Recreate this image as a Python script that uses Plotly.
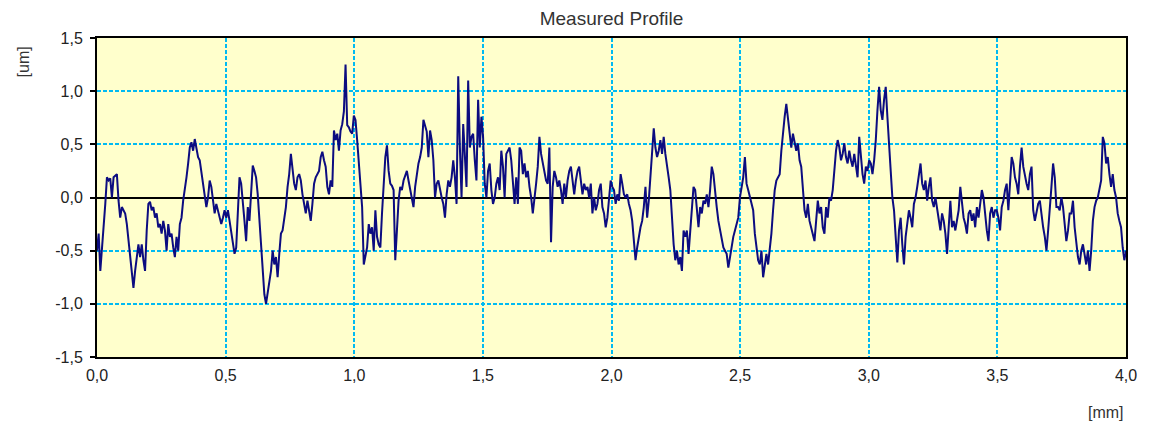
import numpy as np
import plotly.graph_objects as go

# Surface profile heights [um], sampled uniformly along the 0..4 mm trace
seg_a = [-0.50, -0.34, -0.69, -0.50, -0.28, -0.06, 0.19, 0.16, 0.18, 0.00,
         0.19, 0.21, 0.22, -0.03, -0.19, -0.09, -0.12, -0.15, -0.25, -0.41,
         -0.53, -0.66, -0.85, -0.69, -0.56, -0.44, -0.56, -0.44, -0.59, -0.69,
         -0.31, -0.06, -0.04, -0.12, -0.09, -0.19, -0.15, -0.28, -0.25, -0.34,
         -0.22, -0.31, -0.50, -0.25, -0.37, -0.34, -0.47, -0.56, -0.37, -0.50,
         -0.25, -0.19, -0.03, 0.07, 0.19, 0.32, 0.47, 0.52, 0.44, 0.55,
         0.47, 0.38, 0.35, 0.25, 0.13, 0.03, -0.09, 0.00, 0.16, 0.10,
         -0.03, -0.15, -0.06, -0.12, -0.19, -0.25, -0.19]
seg_b = [-0.12, -0.19, -0.12, -0.22, -0.31, -0.41, -0.53, -0.47, -0.19, 0.19,
         0.13, -0.09, -0.22, -0.41, -0.09, -0.22, 0.07, 0.30, 0.25, 0.19,
         0.03, -0.19, -0.44, -0.66, -0.91, -1.00, -0.88, -0.78, -0.69, -0.50,
         -0.63, -0.56, -0.75, -0.53, -0.34, -0.31, -0.19, -0.09, 0.10, 0.22,
         0.41, 0.29, 0.13, 0.07, 0.19, 0.22, 0.16, 0.03, -0.06, -0.15,
         -0.03, -0.12, -0.22, -0.06, 0.13, 0.19, 0.22, 0.25, 0.38, 0.43,
         0.35, 0.29, 0.10, 0.03, 0.16, 0.10, 0.63, 0.54, 0.60, 0.44,
         0.63, 0.69, 0.81, 1.25, 0.68, 0.66, 0.62, 0.60]
seg_c = [0.77, 0.73, 0.54, 0.35, 0.13, -0.09, -0.63, -0.56, -0.47, -0.25,
         -0.34, -0.28, -0.50, -0.12, -0.37, -0.44, -0.47, -0.15, 0.16, 0.38,
         0.49, 0.25, 0.13, 0.11, 0.07, -0.59, -0.31, -0.03, 0.10, 0.07,
         0.16, 0.21, 0.25, 0.16, 0.07, -0.01, -0.09, 0.10, 0.22, 0.32,
         0.38, 0.47, 0.73, 0.68, 0.62, 0.38, 0.63, 0.54, 0.35, 0.00,
         0.13, 0.16, 0.07, 0.00, -0.06, -0.19, 0.03, 0.16, 0.10, 0.19,
         0.35, 0.19, -0.06, 1.14, 0.47, 0.00, 0.69, 0.38, 0.10, 1.10,
         0.47, 0.57, 0.60, 0.35, 0.16, 0.92, 0.47, 0.76]
seg_d = [0.57, 0.13, 0.00, 0.25, 0.32, 0.07, -0.06, 0.00, 0.13, 0.19,
         0.07, 0.44, 0.29, 0.00, 0.41, 0.44, 0.47, 0.35, 0.13, -0.06,
         0.19, -0.06, 0.47, 0.44, 0.22, 0.32, 0.19, 0.25, 0.10, 0.00,
         -0.15, 0.03, 0.13, 0.29, 0.57, 0.41, 0.32, 0.22, 0.16, 0.13,
         0.47, -0.42, 0.10, 0.25, 0.19, 0.10, 0.16, 0.07, -0.06, 0.13,
         0.00, 0.16, 0.25, 0.29, 0.13, 0.03, 0.16, 0.25, 0.29, 0.16,
         0.03, 0.13, 0.07, 0.10, 0.00, 0.13, -0.15, 0.00, -0.12, -0.06,
         0.07, 0.13, -0.09, -0.15, -0.28, -0.19, 0.03, 0.16]
seg_e = [0.10, 0.07, -0.06, 0.03, -0.03, 0.22, 0.13, 0.03, 0.00, 0.03,
         -0.06, -0.12, -0.22, -0.41, -0.59, -0.47, -0.37, -0.28, -0.22, -0.09,
         0.10, -0.19, -0.03, 0.19, 0.44, 0.65, 0.47, 0.38, 0.44, 0.54,
         0.41, 0.57, 0.41, 0.32, 0.19, 0.07, -0.22, -0.44, -0.59, -0.50,
         -0.63, -0.56, -0.69, -0.31, -0.37, -0.31, -0.53, -0.34, -0.15, 0.10,
         0.07, -0.15, -0.28, -0.09, -0.15, -0.03, -0.06, 0.03, -0.09, 0.07,
         0.29, 0.22, 0.03, -0.09, -0.22, -0.31, -0.37, -0.47, -0.50, -0.53,
         -0.66, -0.56, -0.47, -0.37, -0.31, -0.25, -0.19, 0.00]
seg_f = [0.10, 0.19, 0.38, 0.13, 0.07, 0.00, -0.06, -0.12, -0.34, -0.47,
         -0.59, -0.63, -0.50, -0.75, -0.66, -0.53, -0.63, -0.50, -0.34, -0.12,
         0.07, 0.16, 0.19, 0.22, 0.44, 0.63, 0.76, 0.88, 0.73, 0.60,
         0.47, 0.60, 0.51, 0.44, 0.51, 0.35, 0.29, 0.07, -0.12, -0.19,
         -0.06, -0.22, -0.28, -0.34, -0.41, -0.22, -0.03, -0.15, -0.09, -0.28,
         -0.34, -0.09, -0.19, 0.00, -0.03, 0.07, 0.29, 0.44, 0.54, 0.47,
         0.35, 0.41, 0.51, 0.38, 0.32, 0.44, 0.35, 0.29, 0.41, 0.29,
         0.19, 0.57, 0.35, 0.22, 0.13, 0.29, 0.25, 0.35]
seg_g = [0.32, 0.22, 0.35, 0.54, 0.82, 1.04, 0.82, 0.73, 0.92, 1.04,
         0.76, 0.54, 0.25, 0.00, -0.12, -0.37, -0.61, -0.31, -0.19, -0.44,
         -0.63, -0.37, -0.25, -0.12, -0.19, -0.28, -0.06, 0.00, 0.10, 0.19,
         0.32, 0.13, 0.07, 0.16, -0.03, 0.10, 0.19, -0.03, -0.09, 0.00,
         -0.09, -0.19, -0.31, -0.15, -0.22, -0.34, -0.53, -0.28, -0.03, -0.28,
         -0.22, -0.31, -0.22, -0.12, 0.10, -0.06, -0.19, -0.25, -0.34, -0.15,
         -0.12, -0.22, -0.15, -0.28, -0.09, -0.19, -0.06, 0.07, 0.00, -0.19,
         -0.31, -0.41, -0.15, -0.09, -0.19]
seg_h = [-0.12, -0.12, -0.19, -0.31, -0.09, -0.03, 0.07, 0.13, -0.12, 0.13,
         0.38, 0.32, 0.19, 0.13, 0.03, 0.29, 0.47, 0.29, 0.19, 0.13,
         0.07, 0.22, 0.29, -0.12, -0.22, -0.12, -0.06, -0.03, -0.19, -0.28,
         -0.37, -0.50, -0.31, -0.06, 0.10, 0.32, 0.19, -0.09, -0.09, -0.12,
         0.00, -0.09, -0.25, -0.41, -0.31, -0.15, -0.15, -0.03, -0.28, -0.44,
         -0.56, -0.63, -0.50, -0.44, -0.56, -0.63, -0.50, -0.69, -0.50, -0.22,
         -0.09, -0.03, 0.00, 0.07, 0.16, 0.57, 0.51, 0.32, 0.38, 0.22,
         0.10, 0.22, 0.07, 0.00, -0.15, -0.22, -0.28, -0.47, -0.59, -0.50]

height_um = seg_a + seg_b + seg_c + seg_d + seg_e + seg_f + seg_g + seg_h

# Trace length and sampling positions [mm]
trace_length_mm = 4.0
position_mm = np.linspace(0.0, trace_length_mm, len(height_um))

y_ticks = [-1.5, -1.0, -0.5, 0.0, 0.5, 1.0, 1.5]
y_tick_text = ["-1,5", "-1,0", "-0,5", "0,0", "0,5", "1,0", "1,5"]
x_ticks = [0.0, 0.5, 1.0, 1.5, 2.0, 2.5, 3.0, 3.5, 4.0]
x_tick_text = ["0,0", "0,5", "1,0", "1,5", "2,0", "2,5", "3,0", "3,5", "4,0"]

FONT = "Liberation Sans, Arial, sans-serif"
GRID = "#00baf2"

fig = go.Figure()
fig.add_trace(go.Scatter(
    x=position_mm, y=height_um, mode="lines",
    line=dict(color="#0c0c80", width=2),
    hoverinfo="skip", showlegend=False,
))

fig.update_layout(
    width=1149, height=425,
    margin=dict(l=97, r=17, t=38, b=68),
    paper_bgcolor="white",
    plot_bgcolor="#ffffcc",
    font=dict(family=FONT, size=16, color="#222222"),
    title=dict(text="Measured Profile", x=0.5, xref="paper", xanchor="center",
               y=1 - 18 / 425, yref="container", yanchor="middle",
               font=dict(family=FONT, size=19, color="#333333")),
    showlegend=False,
)

fig.update_xaxes(
    range=[0, trace_length_mm], tickvals=x_ticks, ticktext=x_tick_text,
    showgrid=True, gridcolor=GRID, gridwidth=1.5, griddash="4px,2px",
    zeroline=False, showline=True, linecolor="black", linewidth=2, mirror=True,
    ticks="", ticklabelstandoff=3,
    tickfont=dict(family=FONT, size=16, color="#222222"),
)
fig.update_yaxes(
    range=[-1.5, 1.5], tickvals=y_ticks, ticktext=y_tick_text,
    showgrid=True, gridcolor=GRID, gridwidth=1.5, griddash="4px,2px",
    zeroline=True, zerolinecolor="black", zerolinewidth=1.5,
    showline=True, linecolor="black", linewidth=2, mirror=True,
    ticks="outside", ticklen=5, tickcolor="black", tickwidth=1.5,
    ticklabelstandoff=4,
    tickfont=dict(family=FONT, size=16, color="#222222"),
)

# Axis unit labels
fig.add_annotation(text="[um]", xref="paper", yref="paper",
                   x=-73 / 1035, y=1 - 24 / 319, textangle=-90,
                   showarrow=False, xanchor="center", yanchor="middle",
                   font=dict(family=FONT, size=16, color="#333333"))
fig.add_annotation(text="[mm]", xref="paper", yref="paper",
                   x=1.0, y=-55 / 319, showarrow=False,
                   xanchor="right", yanchor="middle",
                   font=dict(family=FONT, size=16, color="#333333"))

fig.write_html("out.html")
